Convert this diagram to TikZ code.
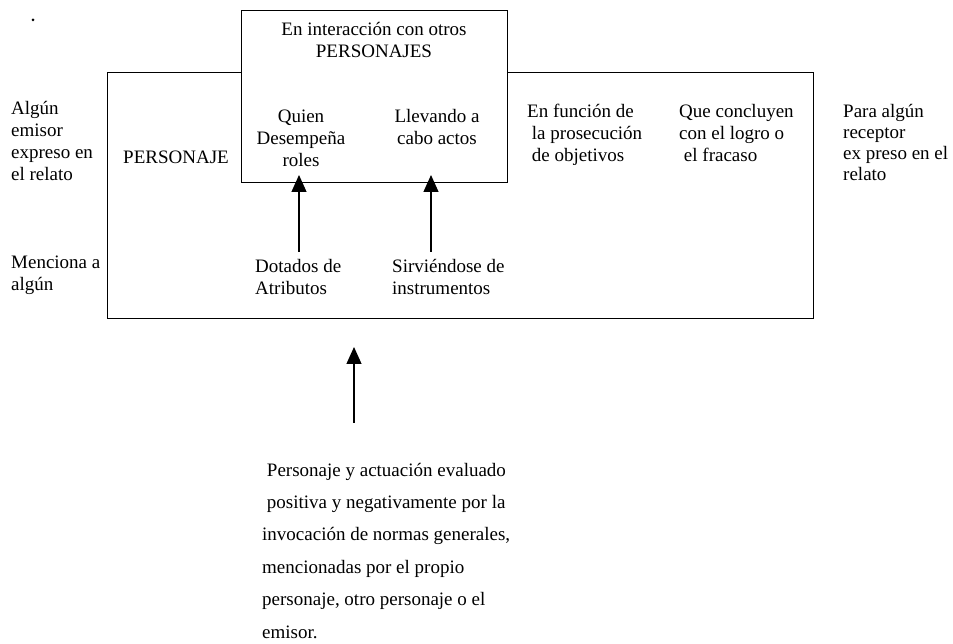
\documentclass[tikz,border=0pt]{standalone}
\usepackage{fontspec}
\setmainfont{Liberation Serif}
\usetikzlibrary{arrows.meta, positioning}

\begin{document}
\begin{tikzpicture}[x=1pt, y=1pt,
  texto/.style={inner sep=0pt, align=left, font=\fontsize{19}{22}\selectfont},
  caja/.style={line width=1pt},
  flecha/.style={line width=1.3pt, -{Triangle[width=15pt,length=17pt]}}]
\useasboundingbox (0,0) rectangle (953,643);

% Boxes
\draw[caja] (107,324) rectangle (813,570);
\draw[caja, fill=white] (241,460) rectangle (507,632);
\fill (33,623) circle (1.5);

% Left side (base = last line)
\node[texto, anchor=base west] (emisor) at (11,462) {Algún\\emisor\\expreso en\\el relato};
\node[texto, anchor=base west] (menciona) at (11,352) {Menciona a\\algún};
\node[texto, anchor=base west] (personaje) at (123,479) {PERSONAJE};

% Top box
\node[texto, align=center, anchor=base] (interaccion) at (374,585) {En interacción con otros\\PERSONAJES};
\node[texto, align=center, anchor=base] (quien) at (301,476) {Quien\\Desempeña\\roles};
\node[texto, align=center, anchor=base] (llevando) at (437,498) {Llevando a\\cabo actos};

% Lower row
\node[texto, anchor=base west] (dotados) at (255,348) {Dotados de\\Atributos};
\node[texto, anchor=base west] (sirviendo) at (392,348) {Sirviéndose de\\instrumentos};

% Right part
\node[texto, anchor=base west] (funcion) at (527,481) {En función de\\\ la prosecución\\\ de objetivos};
\node[texto, anchor=base west] (concluyen) at (679,481) {Que concluyen\\con el logro o\\\ el fracaso};
\node[texto, anchor=base west, font=\fontsize{19}{21.3}\selectfont] (receptor) at (843,462) {Para algún\\receptor\\ex preso en el\\relato};

% Evaluation
\node[texto, anchor=base west, font=\fontsize{19}{32.4}\selectfont] (normas) at (262,5)
  {\ Personaje y actuación evaluado\\\ positiva y negativamente por la\\invocación de normas generales,\\mencionadas por el propio\\personaje, otro personaje o el\\emisor.};

% Arrows
\coordinate (tipA) at (299,468);
\coordinate (tipB) at (431,468);
\coordinate (tipC) at (354,296);
\draw[flecha, shorten <=8pt] (dotados.north -| tipA) -- (tipA);
\draw[flecha, shorten <=8pt] (sirviendo.north -| tipB) -- (tipB);
\draw[flecha, shorten <=40pt] (normas.north -| tipC) -- (tipC);
\end{tikzpicture}
\end{document}
